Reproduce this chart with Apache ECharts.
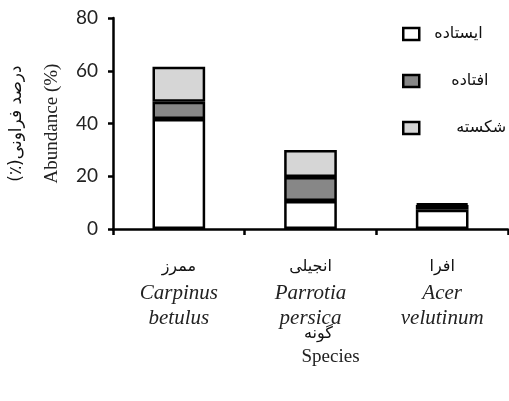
<!DOCTYPE html>
<html><head><meta charset="utf-8">
<script src="https://cdn.jsdelivr.net/npm/echarts/dist/echarts.min.js"></script>
<style>html,body{margin:0;padding:0;background:#fff}#c{width:509px;height:401px}</style>
</head><body><div id="c"></div>
<script>
const categoriesFa = ['ممرز', 'انجیلی', 'افرا'];
const latinLine1 = ['Carpinus', 'Parrotia', 'Acer'];
const latinLine2 = ['betulus', 'persica', 'velutinum'];
const seriesNames = ['ایستاده', 'افتاده', 'شکسته'];
const seriesColors = ['#ffffff', '#878787', '#d6d6d6'];
const standing = [41.7, 10.6, 7.3];
const fallen = [6.5, 9.1, 1.8];
const broken = [13.3, 10.3, 0.6];
const yMin = 0, yMax = 80, yStep = 20;
const legendPad = [10, 27, 32];

const values = [standing, fallen, broken];
const chart = echarts.init(document.getElementById('c'));
chart.setOption({
  animation: false,
  backgroundColor: '#fff',
  grid: { left: 113, right: 1, top: 18, bottom: 172, containLabel: false },
  legend: {
    orient: 'vertical', left: 402, top: 26, padding: 0, itemWidth: 16, itemHeight: 12, itemGap: 31,
    icon: 'rect',
    itemStyle: { borderColor: '#000', borderWidth: 2.5 },
    textStyle: { fontSize: 16, color: '#111', fontFamily: 'DejaVu Sans' },
    data: seriesNames.map((n, i) => ({ name: n, textStyle: { padding: [0, 0, 0, legendPad[i]] } }))
  },
  xAxis: {
    type: 'category', data: categoriesFa,
    axisLine: { lineStyle: { color: '#000', width: 2.5 } },
    axisTick: { show: true, length: 6, lineStyle: { color: '#000', width: 2.5 } },
    axisLabel: {
      interval: 0, margin: 24,
      formatter: (v, i) => '{fa|' + v + '}\n{la|' + latinLine1[i] + '}\n{la|' + latinLine2[i] + '}',
      rich: {
        fa: { fontSize: 16, fontFamily: 'DejaVu Sans', color: '#111', lineHeight: 28 },
        la: { fontSize: 21, fontFamily: 'Liberation Serif', fontStyle: 'italic', color: '#222', lineHeight: 25 }
      }
    },
    name: '{fa|گونه}\n{en|Species}',
    nameLocation: 'middle', nameGap: 93, nameMoveOverlap: false,
    nameTextStyle: {
      padding: [0, 0, 0, 16],
      rich: {
        fa: { fontSize: 16, fontFamily: 'DejaVu Sans', color: '#111', lineHeight: 24 },
        en: { fontSize: 19, fontFamily: 'Liberation Serif', color: '#222', lineHeight: 22, padding: [0, 0, 0, 24] }
      }
    }
  },
  yAxis: {
    type: 'value', min: yMin, max: yMax, interval: yStep,
    splitLine: { show: false },
    axisLine: { show: true, lineStyle: { color: '#000', width: 2.5 } },
    axisTick: { show: true, length: 5, lineStyle: { color: '#000', width: 2.5 } },
    axisLabel: { fontSize: 19, fontFamily: 'Lato', color: '#222', margin: 15 },
    name: '{fa|(٪)درصد فراونی}\n{en|Abundance (%)}',
    nameLocation: 'middle', nameRotate: 90, nameGap: 50, nameMoveOverlap: false,
    nameTextStyle: {
      rich: {
        fa: { fontSize: 17, fontFamily: 'DejaVu Sans', color: '#111', lineHeight: 48 },
        en: { fontSize: 19, fontFamily: 'Liberation Serif', color: '#222', lineHeight: 22 }
      }
    }
  },
  series: seriesNames.map((n, i) => ({
    name: n, type: 'bar', stack: 'total', barWidth: '40%', data: values[i],
    itemStyle: { color: seriesColors[i], borderColor: '#000', borderWidth: 2.5 }
  }))
});
</script></body></html>
